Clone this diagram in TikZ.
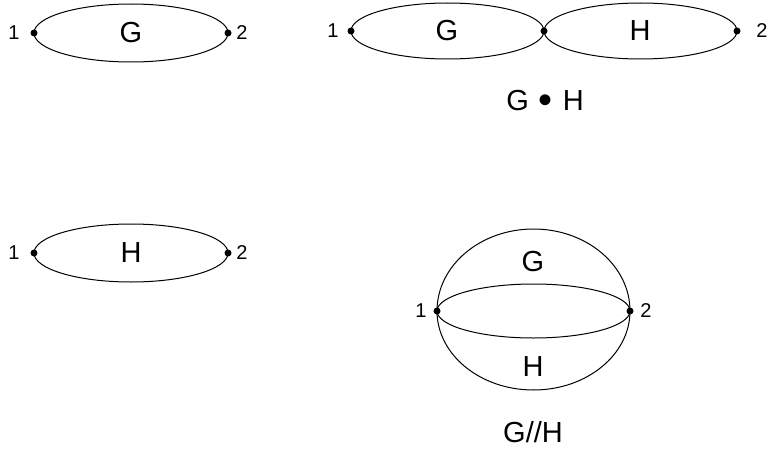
\documentclass[tikz,border=0pt]{standalone}
\usepackage{fontspec}
\setmainfont{Liberation Sans}
\newcommand{\bigbullet}{\raisebox{-3pt}{\fontsize{40}{40}\selectfont •}}
\begin{document}
\begin{tikzpicture}[x=1pt,y=-1pt,
 dot/.style={circle,fill=black,inner sep=0pt,minimum size=7pt},
 big/.style={font=\fontsize{29}{29}\selectfont,inner sep=0pt},
 num/.style={font=\fontsize{20}{20}\selectfont,inner sep=0pt},
 arcline/.style={line width=1pt}]
\useasboundingbox (0,0) rectangle (768,452);
% ---- top left: G
\node[dot] (ga) at (34,33) {};
\node[dot] (gb) at (228,33) {};
\node[num] (ga1) at (14,33) {1};
\node[num] (gb2) at (242,33) {2};
\node[big] (gl) at (131,33) {G};
\draw[arcline] (ga.center) arc[start angle=180,end angle=0,x radius=97,y radius=29];
\draw[arcline] (ga.center) arc[start angle=180,end angle=360,x radius=97,y radius=29];
% ---- bottom left: H
\node[dot] (ha) at (34,253) {};
\node[dot] (hb) at (228,253) {};
\node[num] (ha1) at (14,253) {1};
\node[num] (hb2) at (242,253) {2};
\node[big] (hl) at (131,253) {H};
\draw[arcline] (ha.center) arc[start angle=180,end angle=0,x radius=97,y radius=29];
\draw[arcline] (ha.center) arc[start angle=180,end angle=360,x radius=97,y radius=29];
% ---- top right: series
\node[dot] (sa) at (351,31) {};
\node[dot] (sm) at (544,31) {};
\node[dot] (sb) at (737,31) {};
\node[num] (sa1) at (333,31) {1};
\node[num] (sb2) at (762,31) {2};
\node[big] (sg) at (447,31) {G};
\node[big] (sh) at (640,31) {H};
\draw[arcline] (sa.center) arc[start angle=180,end angle=0,x radius=96.5,y radius=28];
\draw[arcline] (sa.center) arc[start angle=180,end angle=360,x radius=96.5,y radius=28];
\draw[arcline] (sm.center) arc[start angle=180,end angle=0,x radius=96.5,y radius=28];
\draw[arcline] (sm.center) arc[start angle=180,end angle=360,x radius=96.5,y radius=28];
\node[big] (slabel) at (545,102) {G\hspace{10pt}\bigbullet\hspace{10pt}H};
% ---- bottom right: parallel
\node[dot] (pa) at (437,311) {};
\node[dot] (pb) at (630,311) {};
\node[num] (pa1) at (421,311) {1};
\node[num] (pb2) at (646,311) {2};
\node[big] (pg) at (533,262) {G};
\node[big] (ph) at (533,367) {H};
\draw[arcline] (pa.center) arc[start angle=180,end angle=0,x radius=96.5,y radius=27];
\draw[arcline] (pa.center) arc[start angle=180,end angle=360,x radius=96.5,y radius=27];
\draw[arcline] (pa.center) arc[start angle=180,end angle=0,x radius=96.5,y radius=79];
\draw[arcline] (pa.center) arc[start angle=180,end angle=360,x radius=96.5,y radius=82];
\node[big] (plabel) at (533,432) {G//H};
\end{tikzpicture}
\end{document}
